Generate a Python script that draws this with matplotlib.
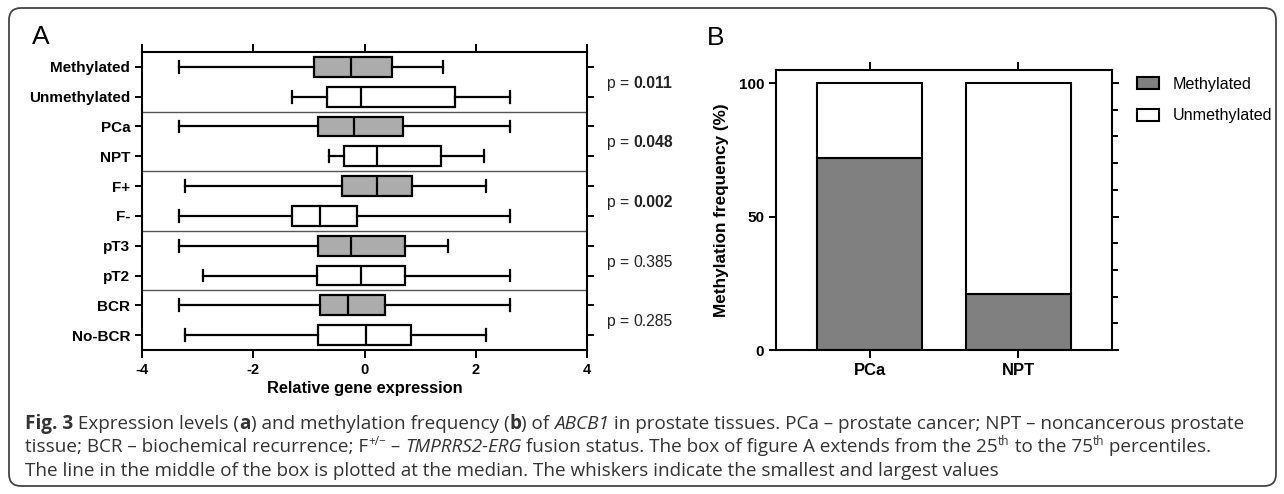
import numpy as np
import matplotlib.pyplot as plt
from matplotlib.patches import FancyBboxPatch, Patch
from matplotlib.ticker import MultipleLocator
from matplotlib.transforms import IdentityTransform

plt.rcParams['font.family'] = ['Liberation Sans', 'DejaVu Sans']
plt.rcParams['axes.unicode_minus'] = False

# ---- data: panel A (relative gene expression, box stats) ----
groups = ['Methylated', 'Unmethylated', 'PCa', 'NPT', 'F+', 'F-',
          'pT3', 'pT2', 'BCR', 'No-BCR']
w_lo = [-3.33, -1.31, -3.33, -0.63, -3.22, -3.33, -3.33, -2.90, -3.33, -3.22]
q1   = [-0.90, -0.68, -0.83, -0.37, -0.40, -1.31, -0.83, -0.86, -0.80, -0.84]
med  = [-0.24, -0.07, -0.18,  0.23,  0.23, -0.80, -0.25, -0.07, -0.30,  0.02]
q3   = [ 0.50,  1.62,  0.70,  1.38,  0.85, -0.14,  0.72,  0.73,  0.36,  0.84]
w_hi = [ 1.42,  2.61,  2.61,  2.14,  2.18,  2.61,  1.50,  2.61,  2.61,  2.18]
pvals = ['0.011', '0.048', '0.002', '0.385', '0.285']
p_bold = [True, True, True, False, False]

# ---- data: panel B (methylation frequency %) ----
tissue = ['PCa', 'NPT']
meth_pct = [72, 21]

W, H = 1284, 494
fig = plt.figure(figsize=(W / 100, H / 100), dpi=100)
R = fig.canvas.get_renderer()


def fbox(l, t, r, b):
    return [l / W, 1 - b / H, (r - l) / W, (b - t) / H]


def adv(s, **kw):
    # advance width of a string in figure fraction (keeps trailing spaces)
    t1 = fig.text(0, 0, s + '|', **kw)
    t2 = fig.text(0, 0, '|', **kw)
    w = t1.get_window_extent(R).width - t2.get_window_extent(R).width
    t1.remove()
    t2.remove()
    return w / W


def rich(x, y, parts, size, color, family):
    for s, st in parts:
        k = dict(fontsize=size, color=color, va='baseline', family=family)
        dy = 0
        if st == 'b':
            k['fontweight'] = 'bold'
        if st == 'i':
            k['fontstyle'] = 'italic'
        if st == 's':
            k['fontsize'] = size * 0.62
            dy = 7 / H
        fig.text(x, y + dy, s, **k)
        x += adv(s, **k)


# ================= panel A =================
ax = fig.add_axes(fbox(142, 52, 587, 350))
stats = [dict(whislo=a, q1=b, med=c, q3=d, whishi=e, label=g)
         for a, b, c, d, e, g in zip(w_lo, q1, med, q3, w_hi, groups)]
pos = np.arange(len(groups)) + 0.5
lw = 1.6
bp = ax.bxp(stats, positions=pos, widths=0.67, orientation='horizontal',
            patch_artist=True, showfliers=False, capwidths=0.4,
            boxprops=dict(lw=lw, edgecolor='black'),
            whiskerprops=dict(lw=lw), capprops=dict(lw=lw),
            medianprops=dict(color='black', lw=lw))
for i, b in enumerate(bp['boxes']):
    b.set_facecolor('#acacac' if i % 2 == 0 else 'white')

ax.set_xlim(-4, 4)
ax.set_ylim(10, 0)
ax.set_xticks([-4, -2, 0, 2, 4])
ax.hlines([2, 4, 6, 8], -4, 4, color='#555555', lw=1)
ax.tick_params(axis='y', left=True, right=True, direction='out', length=5, width=1.4, labelsize=11)
ax.tick_params(axis='x', top=True, bottom=True, direction='out', length=6, width=1.4, labelsize=10.5)
for lab in ax.get_xticklabels() + ax.get_yticklabels():
    lab.set_fontweight('bold')
for sp in ax.spines.values():
    sp.set_linewidth(1.5)
ax.set_xlabel('Relative gene expression', fontweight='bold', fontsize=11.8, labelpad=3)

# p-values next to each pair of boxes
to_fig = ax.transData + fig.transFigure.inverted()
for k, (pv, bd) in enumerate(zip(pvals, p_bold)):
    _, yc = to_fig.transform((0, 2 * k + 1))
    rich(607 / W, yc - 6 / H, [('p = ', 'n'), (pv, 'b' if bd else 'n')],
         11.3, '#222222', ['Liberation Sans'])

fig.text(32 / W, 1 - 37 / H, 'A', fontsize=19, va='center', ha='left')

# ================= panel B =================
bx = fig.add_axes(fbox(776, 70, 1112, 350))
xb = np.arange(len(tissue))
unmeth = [100 - m for m in meth_pct]
bx.bar(xb, meth_pct, 0.707, color='#808080', edgecolor='black', lw=1.5)
bx.bar(xb, unmeth, 0.707, bottom=meth_pct, color='white', edgecolor='black', lw=1.5)
bx.set_xlim(-0.63, 1.633)
bx.set_ylim(0, 104.9)
bx.set_xticks(xb, tissue)
bx.set_yticks([0, 50, 100])
bx.yaxis.set_minor_locator(MultipleLocator(10))
bx.tick_params(axis='x', top=True, bottom=True, direction='out', length=6, width=1.4, labelsize=12)
bx.tick_params(axis='y', left=True, right=True, direction='out', length=5, width=1.4, labelsize=11)
bx.tick_params(axis='y', which='minor', left=False, right=True, direction='out', length=4, width=1.4)
for lab in bx.get_xticklabels() + bx.get_yticklabels():
    lab.set_fontweight('bold')
for sp in bx.spines.values():
    sp.set_linewidth(1.5)
bx.set_ylabel('Methylation frequency (%)', fontweight='bold', fontsize=12.3, labelpad=7)

handles = [Patch(facecolor='#808080', edgecolor='black', lw=1.5, label='Methylated'),
           Patch(facecolor='white', edgecolor='black', lw=1.5, label='Unmethylated')]
fig.legend(handles=handles, loc='upper left', bbox_to_anchor=(1137 / W, 1 - 76.5 / H),
           frameon=False, borderpad=0, borderaxespad=0, fontsize=11.6,
           handlelength=1.37, handleheight=0.75, handletextpad=0.85, labelspacing=1.05)

fig.text(707 / W, 1 - 38 / H, 'B', fontsize=19, va='center', ha='left')

# ================= caption =================
cap = ['Open Sans', 'DejaVu Sans']
csize = 13.6
ccol = '#333333'
line1 = [('Fig. 3', 'b'), (' Expression levels (', 'n'), ('a', 'b'),
         (') and methylation frequency (', 'n'), ('b', 'b'), (') of ', 'n'),
         ('ABCB1', 'i'),
         (' in prostate tissues. PCa \u2013 prostate cancer; NPT \u2013 noncancerous prostate', 'n')]
line2 = [('tissue; BCR \u2013 biochemical recurrence; F', 'n'), ('+/\u2212', 's'),
         (' \u2013 ', 'n'), ('TMPRRS2-ERG', 'i'),
         (' fusion status. The box of figure A extends from the 25', 'n'), ('th', 's'),
         (' to the 75', 'n'), ('th', 's'), (' percentiles.', 'n')]
line3 = [('The line in the middle of the box is plotted at the median. '
          'The whiskers indicate the smallest and largest values', 'n')]
for ln, base in zip([line1, line2, line3], [428.5, 452, 475.5]):
    rich(25 / W, 1 - base / H, ln, csize, ccol, cap)

frame = FancyBboxPatch((9, H - 486), 1267, 478, boxstyle='round,pad=0,rounding_size=12',
                       transform=IdentityTransform(), facecolor='none',
                       edgecolor='#444444', lw=1.3)
fig.add_artist(frame)

fig.savefig('out.png', dpi=100)
